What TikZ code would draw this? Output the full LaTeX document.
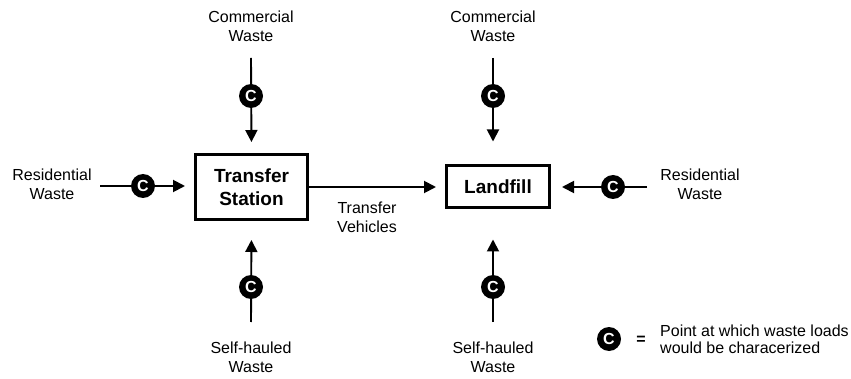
\documentclass[tikz,border=0pt]{standalone}
\usepackage{fontspec}
\setmainfont{Liberation Sans}
\usetikzlibrary{arrows.meta}

\tikzset{
  wastelabel/.style={align=center,inner sep=0pt,font=\fontsize{16}{19}\selectfont},
  site/.style={draw,line width=3pt,align=center,inner sep=0pt,
    font=\fontsize{19}{23}\selectfont\bfseries},
  flow/.style={line width=1.9pt,-{Triangle[length=12pt,width=12pt]}},
  cmark/.style={circle,fill=black,text=white,inner sep=0pt,minimum size=24pt,
    font=\fontsize{16}{16}\selectfont\bfseries},
}

\begin{document}
\begin{tikzpicture}[x=1pt,y=-1pt]
  \useasboundingbox (0,0) rectangle (851,379);
  % facilities
  \node[site,minimum width=112pt,minimum height=65pt] (ts) at (251.5,187) {Transfer\\Station};
  \node[site,minimum width=103pt,minimum height=42pt] (lf) at (498,187) {Landfill};
  % sources
  \node[wastelabel] (tscom) at (251,26) {Commercial\\Waste};
  \node[wastelabel] (lfcom) at (493,26) {Commercial\\Waste};
  \node[wastelabel] (tsres) at (52,184) {Residential\\Waste};
  \node[wastelabel] (lfres) at (700,184) {Residential\\Waste};
  \node[wastelabel] (tsself) at (251,357) {Self-hauled\\Waste};
  \node[wastelabel] (lfself) at (493,357) {Self-hauled\\Waste};
  \node[wastelabel] (veh) at (367,217) {Transfer\\Vehicles};
  % free ends of the flows
  \coordinate (tscomend) at (251,58);
  \coordinate (lfcomend) at (493,58);
  \coordinate (tsresend) at (100,186);
  \coordinate (lfresend) at (647,187);
  \coordinate (tsselfend) at (251,322);
  \coordinate (lfselfend) at (493,322);
  % flows
  \draw[flow,shorten >=11pt] (tscomend) -- (ts.north);
  \draw[flow,shorten >=23pt] (lfcomend) -- (lfcomend |- lf.north);
  \draw[flow,shorten >=9pt] (tsresend) -- (tsresend -| ts.west);
  \draw[flow,shorten >=11pt] (lfresend) -- (lfresend -| lf.east);
  \draw[flow,shorten >=19pt] (tsselfend) -- (ts.south);
  \draw[flow,shorten >=30pt] (lfselfend) -- (lfselfend |- lf.south);
  \draw[flow,shorten >=9pt] (ts.east |- lf.west) -- (lf.west);
  % characterization points
  \node[cmark] (c1) at (251,96) {C};
  \node[cmark] (c2) at (493,96) {C};
  \node[cmark] (c3) at (143,186) {C};
  \node[cmark] (c4) at (613,187) {C};
  \node[cmark] (c5) at (251,287) {C};
  \node[cmark] (c6) at (493,287) {C};
  % key
  \node[cmark] (key) at (609,339) {C};
  \node[wastelabel,font=\fontsize{16}{16}\selectfont\bfseries] (eq) at (641,340) {=};
  \node[wastelabel,align=left,anchor=west,font=\fontsize{16}{17.5}\selectfont] (keytext) at (660,339.5)
    {Point at which waste loads\\would be characerized};
\end{tikzpicture}
\end{document}
